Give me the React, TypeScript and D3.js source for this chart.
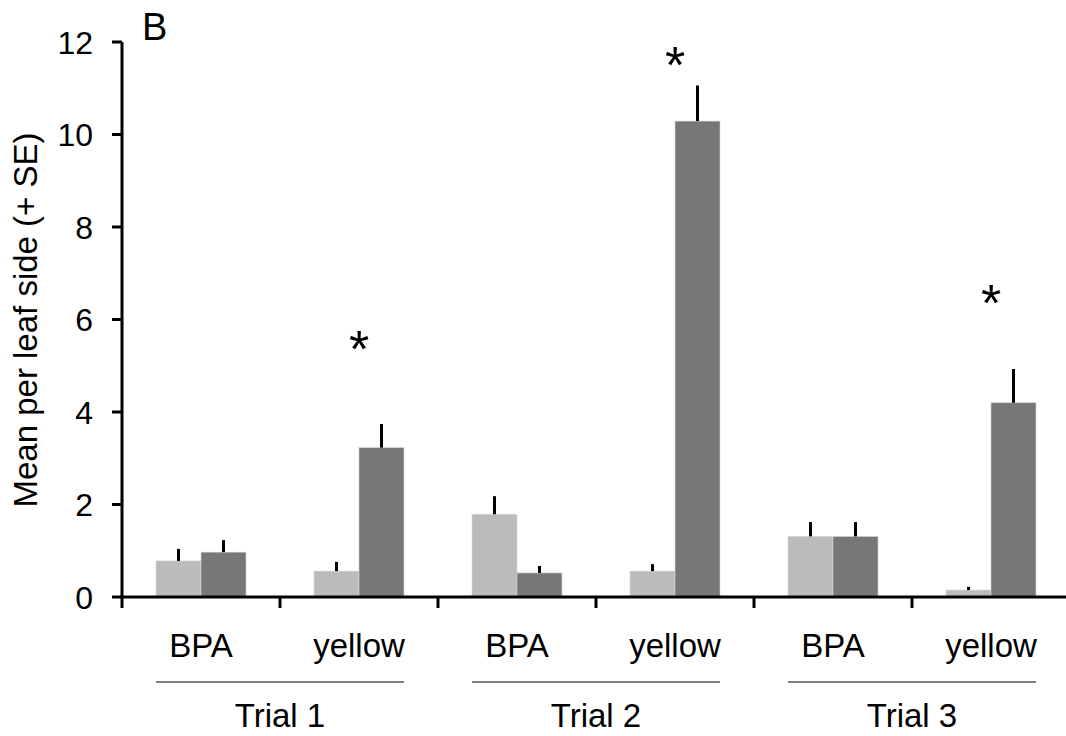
import React from "react";
import * as d3 from "d3";

const categories = ["T1-BPA", "T1-yellow", "T2-BPA", "T2-yellow", "T3-BPA", "T3-yellow"];
const categoryLabels = ["BPA", "yellow", "BPA", "yellow", "BPA", "yellow"];
const trials = ["Trial 1", "Trial 2", "Trial 3"];
const series = ["light", "dark"];
const lightMeans = [0.78, 0.56, 1.79, 0.56, 1.31, 0.15];
const lightSE = [0.26, 0.2, 0.39, 0.15, 0.31, 0.07];
const darkMeans = [0.97, 3.23, 0.52, 10.29, 1.31, 4.2];
const darkSE = [0.26, 0.51, 0.15, 0.77, 0.31, 0.73];
const stars = [null, 5.6, null, 11.75, null, 6.6];
const yTicks = [0, 2, 4, 6, 8, 10, 12];
const colors = { light: "#bbbbbb", dark: "#777777" };

const W = 1066;
const H = 736;
const font = "'Liberation Sans', Arial, sans-serif";

export default function App() {
  const y = d3.scaleLinear().domain([0, 12]).range([597, 42]);
  const x = d3.scaleBand().domain(categories).range([122, 1070]).padding(0);
  const inner = d3.scaleBand().domain(series).range([-45, 45]).padding(0);
  const bw = x.bandwidth();
  const cx = (c: string) => (x(c) as number) + bw / 2;

  const bars: any[] = [];
  categories.forEach((c, i) => {
    bars.push({ c, s: "light", v: lightMeans[i], e: lightSE[i] });
    bars.push({ c, s: "dark", v: darkMeans[i], e: darkSE[i] });
  });

  const xTickPositions = categories.map((c) => x(c) as number);

  return (
    <svg width={W} height={H} style={{ position: "absolute", left: 0, top: 0 }} fontFamily={font}>
      <rect x={0} y={0} width={W} height={H} fill="#fff" />
      {/* bars */}
      {bars.map((b, i) => {
        const bx = cx(b.c) + (inner(b.s) as number);
        return (
          <rect key={"b" + i} x={bx} y={y(b.v)} width={inner.bandwidth()} height={y(0) - y(b.v)}
            fill={colors[b.s as "light" | "dark"]} stroke="#d8d8d8" strokeWidth={0.6} />
        );
      })}
      {/* error bars */}
      {bars.map((b, i) => {
        const ex = cx(b.c) + (inner(b.s) as number) + inner.bandwidth() / 2;
        return <line key={"e" + i} x1={ex} x2={ex} y1={y(b.v)} y2={y(b.v + b.e)} stroke="#000" strokeWidth={3} />;
      })}
      {/* stars */}
      {stars.map((s, i) =>
        s == null ? null : (
          <text key={"s" + i} x={cx(categories[i])} y={y(s)} dy="0.56em" textAnchor="middle" fontSize={52} fill="#000">*</text>
        )
      )}
      {/* y axis */}
      <line x1={122} x2={122} y1={y(12)} y2={y(0)} stroke="#000" strokeWidth={3} />
      {yTicks.map((t) => (
        <g key={"yt" + t}>
          <line x1={112} x2={122} y1={y(t)} y2={y(t)} stroke="#000" strokeWidth={3} />
          <text x={93} y={y(t)} dy="0.36em" textAnchor="end" fontSize={32} fill="#000">{t}</text>
        </g>
      ))}
      {/* x axis */}
      <line x1={120.5} x2={1066} y1={y(0)} y2={y(0)} stroke="#000" strokeWidth={3} />
      {xTickPositions.map((p, i) => (
        <line key={"xt" + i} x1={p} x2={p} y1={y(0)} y2={y(0) + 11} stroke="#000" strokeWidth={3} />
      ))}
      {/* category labels */}
      {categories.map((c, i) => (
        <text key={"cl" + i} x={cx(c)} y={657} textAnchor="middle" fontSize={33} fill="#000">{categoryLabels[i]}</text>
      ))}
      {/* trial labels */}
      {trials.map((t, i) => {
        const c0 = categories[i * 2];
        const c1 = categories[i * 2 + 1];
        const l = cx(c0) + (inner("light") as number);
        const r = cx(c1) + (inner("dark") as number) + inner.bandwidth();
        return (
          <g key={"tr" + i}>
            <line x1={l} x2={r} y1={682} y2={682} stroke="#555" strokeWidth={1.5} />
            <text x={x(c1) as number} y={727} textAnchor="middle" fontSize={33} fill="#000">{t}</text>
          </g>
        );
      })}
      {/* y title */}
      <text transform="translate(37,320) rotate(-90)" textAnchor="middle" fontSize={33} fill="#000">Mean per leaf side (+ SE)</text>
      {/* panel letter */}
      <text x={142} y={40} fontSize={38} fill="#000">B</text>
    </svg>
  );
}
